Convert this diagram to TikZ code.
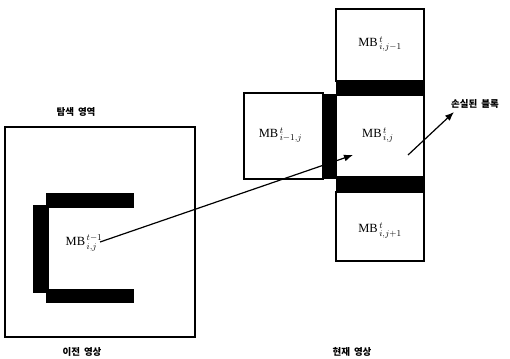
\documentclass[tikz,border=0pt]{standalone}
\usepackage{fontspec}
\setmainfont{Liberation Serif}
\newfontfamily\kr{Noto Sans CJK KR}
\usetikzlibrary{arrows.meta}
\begin{document}
\begin{tikzpicture}[x=1pt,y=-1pt,
  blk/.style={draw,line width=1.2pt,fill=white,inner sep=0pt},
  bar/.style={fill=black,draw=none,inner sep=0pt},
  lbl/.style={font=\fontsize{12.5}{14}\selectfont,inner sep=0pt},
  krl/.style={font=\kr\bfseries\fontsize{9.5}{11}\selectfont,inner sep=0pt},
  arr/.style={line width=1.2pt,-{Latex[length=9pt,width=7pt]}}]
\useasboundingbox (0,0) rectangle (510,358);
% left: previous frame
\node[blk,minimum width=190pt,minimum height=210pt] (search) at (100,232) {};
\node[bar,minimum width=88pt,minimum height=15pt] (topbarL) at (90,200.5) {};
\node[bar,minimum width=16pt,minimum height=88pt] (leftbarL) at (41,249) {};
\node[bar,minimum width=88pt,minimum height=14pt] (botbarL) at (90,296) {};
\node[fill=white,inner sep=0pt,minimum width=85pt,minimum height=81pt] (prevmb) at (91.5,248.5) {};
\node[lbl] (prevlbl) at (84,243) {MB$^{\,t-1}_{\,i,j}$};
\node[krl] (searchlbl) at (76,112) {탐색\hspace{4pt}영역};
\node[krl] (prevframe) at (82,352) {이전\hspace{4pt}영상};
% right: current frame
\node[blk,minimum width=88pt,minimum height=72pt] (top) at (380,45) {};
\node[bar,minimum width=89pt,minimum height=14pt] (bar1) at (380,88) {};
\node[blk,minimum width=88pt,minimum height=82pt] (center) at (380,136) {};
\node[bar,minimum width=89pt,minimum height=15pt] (bar2) at (380,184.5) {};
\node[blk,minimum width=88pt,minimum height=69pt] (bottom) at (380,226.5) {};
\node[blk,minimum width=79pt,minimum height=86pt] (left) at (283.5,136) {};
\node[bar,minimum width=14pt,minimum height=85pt] (vbar) at (330,136.5) {};
\node[lbl] at ([yshift=1pt]top.center) {MB$^{\,t}_{\,i,j-1}$};
\node[lbl] at ([xshift=-3pt,yshift=1pt]left.center) {MB$^{\,t}_{\,i-1,j}$};
\node[lbl] at ([xshift=-2pt,yshift=1pt]center.center) {MB$^{\,t}_{\,i,j}$};
\node[lbl] at ([yshift=-4pt]bottom.center) {MB$^{\,t}_{\,i,j+1}$};
\node[krl] (lostlbl) at (475,104) {손실된\hspace{4pt}블록};
\node[krl] (curframe) at (352,352) {현재\hspace{4pt}영상};
% arrows
\coordinate (a1s) at (100,242);
\coordinate (a1e) at (353,155);
\coordinate (a2s) at (408,155);
\coordinate (a2e) at (454,112);
\draw[arr] (a1s) -- (a1e);
\draw[arr] (a2s) -- (a2e);
\end{tikzpicture}
\end{document}
